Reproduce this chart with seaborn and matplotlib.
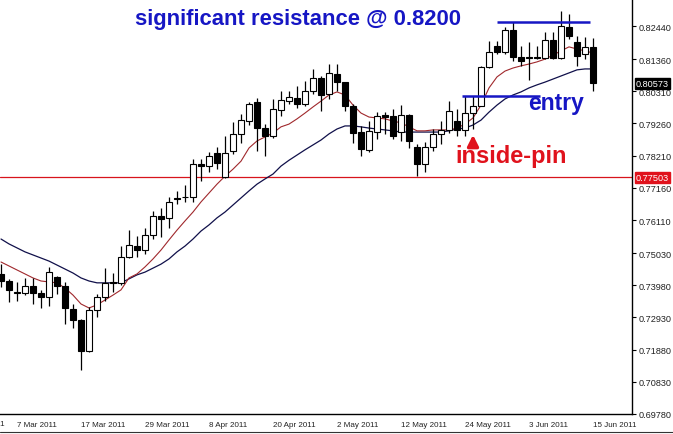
import numpy as np
import pandas as pd
import matplotlib
matplotlib.use("Agg")
import matplotlib.pyplot as plt
import matplotlib.transforms as mtransforms
from matplotlib.lines import Line2D
import seaborn as sns

# daily EURCHF-style candles, 3 Mar 2011 .. 15 Jun 2011
dates = pd.bdate_range("2011-03-03", periods=75)

opens = [0.7435, 0.7412, 0.7376, 0.7373, 0.7396, 0.7373, 0.7360, 0.7425, 0.7396, 0.7321,
         0.7285, 0.7184, 0.7317, 0.7360, 0.7409, 0.7406, 0.7490, 0.7526, 0.7513, 0.7562,
         0.7624, 0.7618, 0.7683, 0.7686, 0.7686, 0.7794, 0.7787, 0.7830, 0.7751, 0.7836,
         0.7892, 0.7934, 0.7996, 0.7911, 0.7885, 0.7970, 0.7999, 0.8009, 0.7990, 0.8032,
         0.8074, 0.8022, 0.8087, 0.8061, 0.7983, 0.7898, 0.7840, 0.7898, 0.7954, 0.7950,
         0.7898, 0.7954, 0.7849, 0.7794, 0.7849, 0.7892, 0.7905, 0.7934, 0.7905, 0.7960,
         0.7983, 0.8110, 0.8179, 0.8159, 0.8231, 0.8143, 0.8143, 0.8143, 0.8140, 0.8198,
         0.8140, 0.8241, 0.8192, 0.8153, 0.8176]
highs = [0.7467, 0.7419, 0.7409, 0.7422, 0.7422, 0.7383, 0.7458, 0.7428, 0.7409, 0.7337,
         0.7288, 0.7327, 0.7370, 0.7454, 0.7438, 0.7526, 0.7578, 0.7559, 0.7585, 0.7640,
         0.7650, 0.7686, 0.7706, 0.7725, 0.7810, 0.7810, 0.7833, 0.7849, 0.7885, 0.7931,
         0.7957, 0.7996, 0.8009, 0.7924, 0.8006, 0.8032, 0.8032, 0.8048, 0.8065, 0.8104,
         0.8081, 0.8120, 0.8120, 0.8061, 0.7990, 0.7918, 0.7934, 0.7963, 0.7963, 0.7973,
         0.7986, 0.7957, 0.7859, 0.7866, 0.7908, 0.7934, 0.7999, 0.7973, 0.8016, 0.8016,
         0.8114, 0.8195, 0.8195, 0.8241, 0.8257, 0.8179, 0.8192, 0.8179, 0.8225, 0.8225,
         0.8293, 0.8283, 0.8211, 0.8208, 0.8205]
lows = [0.7392, 0.7344, 0.7347, 0.7366, 0.7337, 0.7324, 0.7330, 0.7370, 0.7272, 0.7259,
        0.7122, 0.7180, 0.7295, 0.7347, 0.7376, 0.7399, 0.7487, 0.7490, 0.7500, 0.7549,
        0.7556, 0.7585, 0.7663, 0.7670, 0.7670, 0.7738, 0.7768, 0.7777, 0.7748, 0.7826,
        0.7862, 0.7921, 0.7836, 0.7820, 0.7879, 0.7950, 0.7990, 0.7977, 0.7983, 0.8022,
        0.7967, 0.8006, 0.8032, 0.7967, 0.7862, 0.7820, 0.7833, 0.7875, 0.7892, 0.7875,
        0.7869, 0.7846, 0.7754, 0.7767, 0.7836, 0.7859, 0.7895, 0.7885, 0.7885, 0.7908,
        0.7983, 0.8107, 0.8153, 0.8153, 0.8130, 0.8114, 0.8068, 0.8136, 0.8136, 0.8136,
        0.8136, 0.8202, 0.8114, 0.8136, 0.8032]
closes = [0.7412, 0.7383, 0.7373, 0.7396, 0.7373, 0.7360, 0.7441, 0.7396, 0.7324, 0.7285,
          0.7184, 0.7317, 0.7360, 0.7406, 0.7406, 0.7490, 0.7530, 0.7513, 0.7562, 0.7624,
          0.7614, 0.7670, 0.7681, 0.7685, 0.7794, 0.7787, 0.7820, 0.7797, 0.7830, 0.7892,
          0.7937, 0.7990, 0.7911, 0.7885, 0.7973, 0.8003, 0.8012, 0.7990, 0.8032, 0.8074,
          0.8019, 0.8091, 0.8061, 0.7983, 0.7895, 0.7843, 0.7902, 0.7950, 0.7947, 0.7885,
          0.7954, 0.7869, 0.7794, 0.7849, 0.7892, 0.7905, 0.7967, 0.7905, 0.7960, 0.7983,
          0.8110, 0.8159, 0.8159, 0.8231, 0.8143, 0.8130, 0.8141, 0.8141, 0.8198, 0.8140,
          0.8244, 0.8211, 0.8146, 0.8176, 0.8057]

# moving averages as drawn on the chart
ma_fast = [0.7474, 0.7461, 0.7448, 0.7435, 0.7422, 0.7412, 0.7409, 0.7406, 0.7389, 0.7366,
           0.7337, 0.7324, 0.7334, 0.7350, 0.7366, 0.7383, 0.7422, 0.7435, 0.7458, 0.7484,
           0.7513, 0.7546, 0.7578, 0.7608, 0.7637, 0.7670, 0.7699, 0.7728, 0.7754, 0.7777,
           0.7803, 0.7846, 0.7869, 0.7882, 0.7895, 0.7915, 0.7924, 0.7941, 0.7960, 0.7980,
           0.7999, 0.8019, 0.8029, 0.8019, 0.7986, 0.7960, 0.7947, 0.7944, 0.7941, 0.7934,
           0.7928, 0.7915, 0.7902, 0.7902, 0.7905, 0.7905, 0.7905, 0.7911, 0.7924, 0.7944,
           0.7986, 0.8042, 0.8078, 0.8097, 0.8107, 0.8114, 0.8120, 0.8127, 0.8136, 0.8149,
           0.8163, 0.8176, 0.8169, 0.8163, 0.8156]
ma_slow = [0.7549, 0.7533, 0.7520, 0.7507, 0.7497, 0.7487, 0.7477, 0.7464, 0.7451, 0.7438,
           0.7422, 0.7412, 0.7406, 0.7406, 0.7406, 0.7406, 0.7419, 0.7432, 0.7441, 0.7454,
           0.7467, 0.7484, 0.7507, 0.7526, 0.7549, 0.7575, 0.7595, 0.7618, 0.7637, 0.7660,
           0.7683, 0.7706, 0.7728, 0.7745, 0.7761, 0.7787, 0.7806, 0.7823, 0.7840, 0.7856,
           0.7872, 0.7892, 0.7908, 0.7918, 0.7918, 0.7915, 0.7911, 0.7908, 0.7905, 0.7902,
           0.7898, 0.7898, 0.7898, 0.7898, 0.7898, 0.7898, 0.7902, 0.7908, 0.7911, 0.7921,
           0.7937, 0.7963, 0.7986, 0.8006, 0.8019, 0.8029, 0.8042, 0.8052, 0.8061, 0.8071,
           0.8081, 0.8091, 0.8101, 0.8104, 0.8104]

tick_labels = ["7 Mar 2011", "17 Mar 2011", "29 Mar 2011", "8 Apr 2011", "20 Apr 2011",
               "2 May 2011", "12 May 2011", "24 May 2011", "3 Jun 2011", "15 Jun 2011"]
price_ticks = [0.82440, 0.81360, 0.80310, 0.79260, 0.78210, 0.77160, 0.76110,
               0.75030, 0.73980, 0.72930, 0.71880, 0.70830, 0.69780]

support_level = 0.77503
last_price = 0.80573
resistance_line = 0.8258
entry_level = 0.8015

df = pd.DataFrame({"date": dates, "open": opens, "high": highs, "low": lows,
                   "close": closes, "ma_fast": ma_fast, "ma_slow": ma_slow})
df["i"] = np.arange(len(df))
df["up"] = df["close"] >= df["open"]

sns.set_style("white")
plt.rcParams["font.family"] = ["Liberation Sans", "DejaVu Sans"]

fig = plt.figure(figsize=(6.73, 4.35), dpi=100)
ax = fig.add_axes([0, 20 / 435, 632 / 673, 415 / 435])

blue = "#1616c4"
red = "#e0121c"
axis_txt = "#222222"

# moving averages
sns.lineplot(data=df, x="i", y="ma_slow", color="#10104a", lw=0.9, ax=ax, zorder=2)
sns.lineplot(data=df, x="i", y="ma_fast", color="#a0282c", lw=0.8, ax=ax, zorder=2)

# support line
ax.axhline(support_level, color="#d8141c", lw=0.9, zorder=1)

# candles
ax.vlines(df["i"], df["low"], df["high"], color="black", lw=0.9, zorder=3)
body_lo = df[["open", "close"]].min(axis=1)
body_h = (df["close"] - df["open"]).abs()
ax.bar(df["i"], body_h, bottom=body_lo, width=0.64,
       color=np.where(df["up"], "white", "black"), edgecolor="black", lw=0.8, zorder=4)

# annotations
ax.hlines(resistance_line, 62, 73.6, color=blue, lw=1.8, zorder=5)
ax.hlines(entry_level, 57.6, 67.4, color=blue, lw=1.8, zorder=5)
ax.text(16.75, 0.8251, "significant resistance @ 0.8200", color=blue,
        fontsize=15.8, fontweight="bold", va="baseline", ha="left")
ax.text(65.9, 0.7973, "entry", color=blue, fontsize=16.5, fontweight="bold",
        va="baseline", ha="left")
ax.text(56.75, 0.7800, "inside-pin", color=red, fontsize=17, fontweight="bold",
        va="baseline", ha="left")
ax.annotate("", xy=(59, 0.7898), xytext=(59, 0.7850),
            arrowprops=dict(arrowstyle="-|>", color=red, lw=2.5, mutation_scale=16))

# axes
ax.set_xlim(-0.125, 78.875)
ax.set_ylim(0.6978, 0.83322)
tick_pos = [dates.get_loc(pd.to_datetime(t, format="%d %b %Y")) for t in tick_labels]
ax.set_xticks(tick_pos)
ax.set_xticklabels(tick_labels)
for lbl in ax.get_xticklabels():
    lbl.set_horizontalalignment("left")
ax.set_yticks(price_ticks)
ax.set_yticklabels([f"{p:.5f}" for p in price_ticks])
ax.yaxis.tick_right()
ax.tick_params(axis="y", direction="out", length=3, width=0.8, pad=1.5,
               labelsize=6.6, colors="black", labelcolor=axis_txt)
ax.tick_params(axis="x", direction="out", length=3, width=0.8, pad=2,
               labelsize=5.8, labelcolor=axis_txt)
ax.set_xlabel("")
ax.set_ylabel("")
for side in ["left", "top"]:
    ax.spines[side].set_visible(False)
for side in ["right", "bottom"]:
    ax.spines[side].set_color("black")
    ax.spines[side].set_linewidth(1)

# label of the previous date tick, cut by the left edge as in the terminal
trans_x = mtransforms.blended_transform_factory(ax.transData, ax.transAxes)
ax.text(0.4, -0.014, "23 Feb 2011", transform=trans_x, ha="right", va="top",
        fontsize=5.8, color=axis_txt, clip_on=False)

# price boxes on the scale
trans_y = mtransforms.blended_transform_factory(ax.transAxes, ax.transData)
ax.text(1.006, last_price, f"{last_price:.5f}", transform=trans_y, ha="left", va="center",
        fontsize=6.6, color="white", clip_on=False,
        bbox=dict(boxstyle="square,pad=0.12", fc="black", ec="black"))
ax.text(1.006, support_level, f"{support_level:.5f}", transform=trans_y, ha="left",
        va="center", fontsize=6.6, color="white", clip_on=False,
        bbox=dict(boxstyle="square,pad=0.12", fc=red, ec=red))

fig.add_artist(Line2D([0, 1], [2.5 / 435, 2.5 / 435], transform=fig.transFigure,
                      color="#333333", lw=0.8))

fig.savefig("out.png", dpi=100)
